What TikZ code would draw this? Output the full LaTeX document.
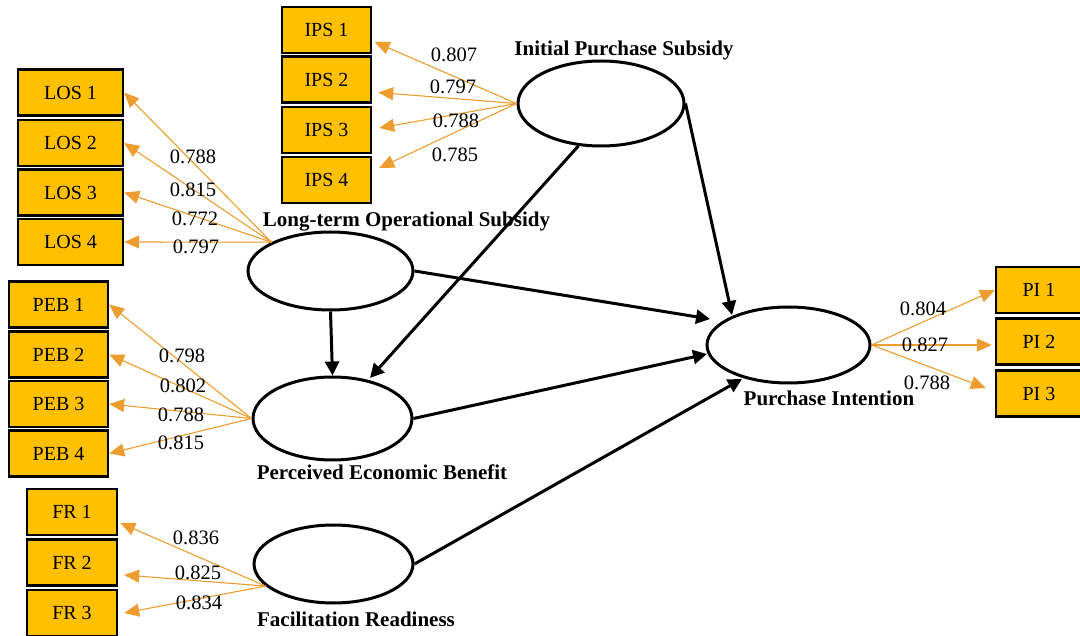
\documentclass[tikz,border=0pt]{standalone}
\usepackage{fontspec}
\setmainfont{Liberation Serif}
\usetikzlibrary{arrows.meta,calc,shapes.geometric}
\definecolor{boxgold}{RGB}{255,192,0}
\definecolor{loadorange}{RGB}{237,157,48}

\begin{document}
\begin{tikzpicture}[x=1pt,y=-1pt,
  indicator/.style={draw=black,line width=2.4pt,fill=boxgold,minimum height=46pt,
    inner sep=0pt,font=\fontsize{20}{24}\selectfont},
  construct/.style={ellipse,draw=black,line width=3pt,inner sep=0pt},
  loading/.style={draw=loadorange,line width=1.1pt,-{Triangle[length=15pt,width=13pt]}},
  effect/.style={draw=black,line width=3pt,-{Triangle[length=14pt,width=14pt]}},
  coef/.style={font=\fontsize{20.5}{24}\selectfont,inner sep=0pt},
  cname/.style={font=\bfseries\fontsize{21}{25}\selectfont,anchor=base,inner sep=0pt}]

\useasboundingbox (0,0) rectangle (1080,636);

% latent constructs
\node[construct,minimum width=166pt,minimum height=85pt] (ips) at (601,103.5) {};
\node[construct,minimum width=165pt,minimum height=78pt] (los) at (330.5,271) {};
\node[construct,minimum width=159pt,minimum height=83pt] (peb) at (332.5,418.5) {};
\node[construct,minimum width=159pt,minimum height=78pt] (fr)  at (333.5,564) {};
\node[construct,minimum width=163pt,minimum height=76pt] (pi)  at (788.5,345) {};

% construct names
\node[cname] (ipsl) at (624,56)    {Initial Purchase Subsidy};
\node[cname] (losl) at (406.5,227) {Long-term Operational Subsidy};
\node[cname] (pebl) at (382,479)   {Perceived Economic Benefit};
\node[cname] (frl)  at (356,626)   {Facilitation Readiness};
\node[cname] (pil)  at (829,406)   {Purchase Intention};

% indicators
\node[indicator,minimum width=89pt] (ips1) at (326.5,30)   {IPS 1};
\node[indicator,minimum width=89pt] (ips2) at (326.5,79.5) {IPS 2};
\node[indicator,minimum width=89pt] (ips3) at (326.5,130)  {IPS 3};
\node[indicator,minimum width=89pt] (ips4) at (326.5,180)  {IPS 4};

\node[indicator,minimum width=105pt] (los1) at (70.5,92.5)  {LOS 1};
\node[indicator,minimum width=105pt] (los2) at (70.5,143)   {LOS 2};
\node[indicator,minimum width=105pt] (los3) at (70.5,192.5) {LOS 3};
\node[indicator,minimum width=105pt] (los4) at (70.5,242)   {LOS 4};

\node[indicator,minimum width=99pt] (peb1) at (58.5,304.5) {PEB 1};
\node[indicator,minimum width=99pt] (peb2) at (58.5,354.5) {PEB 2};
\node[indicator,minimum width=99pt] (peb3) at (58.5,404)   {PEB 3};
\node[indicator,minimum width=99pt] (peb4) at (58.5,453.5) {PEB 4};

\node[indicator,minimum width=90pt] (fr1) at (72,512)   {FR 1};
\node[indicator,minimum width=90pt] (fr2) at (72,562.5) {FR 2};
\node[indicator,minimum width=90pt] (fr3) at (72,613)   {FR 3};

\node[indicator,minimum width=86pt] (pi1) at (1039,290)   {PI 1};
\node[indicator,minimum width=86pt] (pi2) at (1039,341.5) {PI 2};
\node[indicator,minimum width=86pt] (pi3) at (1039,393.5) {PI 3};

% outer loadings
\draw[loading] (ips.west) -- ($(ips1.east)+(2.5,12)$);
\draw[loading] (ips.west) -- ($(ips2.east)+(6,13)$);
\draw[loading] (ips.west) -- ($(ips3.east)+(7,-2)$);
\draw[loading] (ips.west) -- ($(ips4.east)+(7,-12)$);

\draw[loading] (los.154) -- (los1.east);
\draw[loading] (los.154) -- (los2.east);
\draw[loading] (los.154) -- (los3.east);
\draw[loading] (los.154) -- (los4.east);

\draw[loading] (peb.west) -- (peb1.east);
\draw[loading] (peb.west) -- (peb2.east);
\draw[loading] (peb.west) -- (peb3.east);
\draw[loading] (peb.west) -- (peb4.east);

\draw[loading] (fr.198) -- ($(fr1.east)+(2,11)$);
\draw[loading] (fr.198) -- ($(fr2.east)+(6,12.5)$);
\draw[loading] (fr.198) -- ($(fr3.east)+(6,0)$);

\draw[loading] (pi.east) -- (pi1.west);
\draw[loading] (pi.east) -- ($(pi2.west)+(-3,3.5)$);
\draw[loading] (pi.east) -- ($(pi3.west)+(-9,-5.5)$);

% loading values
\node[coef] (c1)  at (454,55)  {0.807};
\node[coef] (c2)  at (453,87)  {0.797};
\node[coef] (c3)  at (456,121) {0.788};
\node[coef] (c4)  at (455,155) {0.785};

\node[coef] (c5)  at (193,157) {0.788};
\node[coef] (c6)  at (193,190) {0.815};
\node[coef] (c7)  at (195,219) {0.772};
\node[coef] (c8)  at (196,247) {0.797};

\node[coef] (c9)  at (182,356) {0.798};
\node[coef] (c10) at (183,386) {0.802};
\node[coef] (c11) at (181,415) {0.788};
\node[coef] (c12) at (181,443) {0.815};

\node[coef] (c13) at (196,538) {0.836};
\node[coef] (c14) at (198,573) {0.825};
\node[coef] (c15) at (199,603) {0.834};

\node[coef] (c16) at (923,309) {0.804};
\node[coef] (c17) at (925,345) {0.827};
\node[coef] (c18) at (927,383) {0.788};

% structural paths
\draw[effect] (ips.east) -- ($(pi.center)+(-56.5,-30)$);
\draw[effect] (ips.242) -- ($(peb.center)+(37.5,-40.5)$);
\draw[effect] (los.south) -- (peb.north);
\draw[effect] (los.east) -- ($(pi.center)+(-78.5,-26)$);
\draw[effect] (peb.east) -- ($(pi.center)+(-81.5,9)$);
\draw[effect] (fr.east) -- ($(pi.center)+(-46.5,34)$);
\end{tikzpicture}
\end{document}
